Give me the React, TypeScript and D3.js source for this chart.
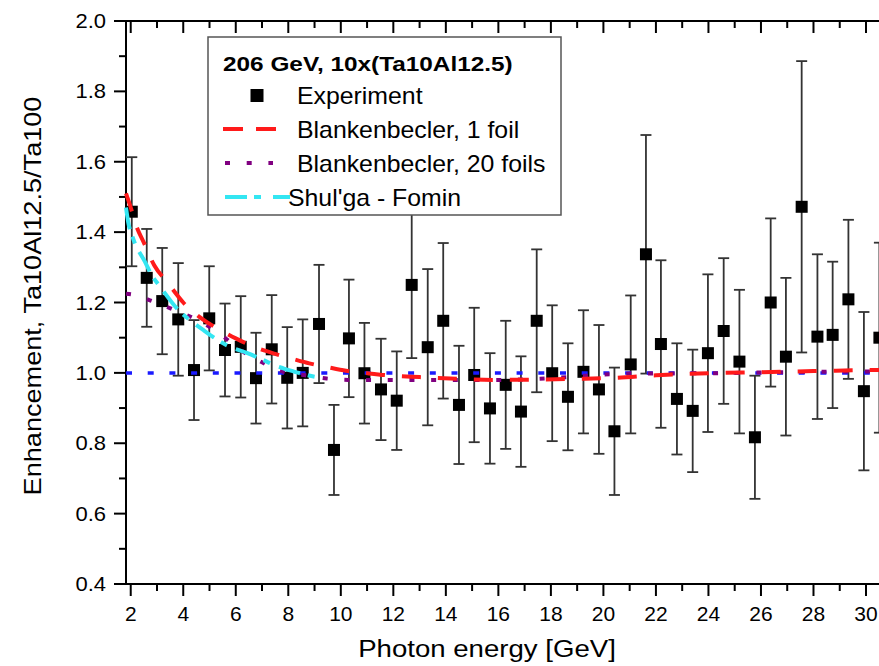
import * as d3 from 'd3';

// Experiment (206 GeV, 10x(Ta10Al12.5))
const expX = [2.04, 2.61, 3.2, 3.81, 4.41, 4.99, 5.59, 6.19, 6.77, 7.37, 7.96, 8.55, 9.17, 9.74, 10.31, 10.9, 11.53, 12.13, 12.7, 13.31, 13.9, 14.5, 15.08, 15.68, 16.28, 16.86, 17.46, 18.05, 18.65, 19.24, 19.83, 20.42, 21.04, 21.62, 22.19, 22.8, 23.4, 23.98, 24.58, 25.18, 25.77, 26.37, 26.95, 27.55, 28.15, 28.73, 29.33, 29.92, 30.51];
const expY = [1.458, 1.27, 1.204, 1.152, 1.008, 1.155, 1.065, 1.074, 0.985, 1.067, 0.986, 1.0, 1.139, 0.781, 1.098, 0.999, 0.953, 0.921, 1.25, 1.073, 1.148, 0.909, 0.994, 0.899, 0.966, 0.89, 1.148, 0.999, 0.932, 1.003, 0.953, 0.834, 1.024, 1.337, 1.082, 0.926, 0.892, 1.056, 1.119, 1.032, 0.817, 1.2, 1.046, 1.472, 1.103, 1.108, 1.209, 0.948, 1.1];
const expErr = [0.155, 0.139, 0.151, 0.16, 0.142, 0.148, 0.132, 0.144, 0.129, 0.154, 0.144, 0.152, 0.168, 0.128, 0.167, 0.143, 0.144, 0.14, 0.208, 0.222, 0.221, 0.168, 0.191, 0.157, 0.182, 0.157, 0.203, 0.193, 0.152, 0.175, 0.183, 0.181, 0.196, 0.339, 0.238, 0.158, 0.174, 0.224, 0.207, 0.204, 0.175, 0.239, 0.224, 0.414, 0.234, 0.208, 0.226, 0.225, 0.27];

// Blankenbecler, 1 foil
const blank1X = [1.82, 2.0, 2.2, 2.5, 2.9, 3.4, 4.0, 4.6, 5.4, 6.0, 6.7, 7.5, 8.2, 8.8, 9.5, 10.2, 10.9, 11.8, 13.0, 14.5, 16.0, 17.5, 19.0, 20.5, 22.0, 24.0, 26.0, 28.0, 30.0, 31.0];
const blank1Y = [1.51, 1.47, 1.42, 1.37, 1.305, 1.257, 1.2, 1.16, 1.122, 1.098, 1.074, 1.054, 1.039, 1.027, 1.016, 1.006, 1.0, 0.993, 0.988, 0.983, 0.98, 0.981, 0.983, 0.986, 0.993, 0.999, 1.002, 1.005, 1.008, 1.009];

// Blankenbecler, 20 foils
const blank20X = [1.82, 2.04, 2.82, 3.62, 4.49, 5.34, 6.14, 7.0, 7.81, 8.64, 9.46, 10.29, 12.0, 14.0, 16.0, 18.0, 19.0, 20.0, 21.0, 24.0, 28.0, 31.0];
const blank20Y = [1.225, 1.223, 1.204, 1.18, 1.152, 1.114, 1.067, 1.03, 1.003, 0.993, 0.984, 0.98, 0.98, 0.98, 0.98, 0.985, 0.99, 0.995, 0.998, 0.999, 1.003, 1.004];

// Shul'ga - Fomin
const shulgaX = [1.82, 1.9, 2.1, 2.54, 2.8, 3.12, 3.81, 4.26, 4.76, 5.78, 6.42, 7.18, 7.56, 7.81, 8.4, 9.02, 9.2];
const shulgaY = [1.47, 1.43, 1.38, 1.316, 1.278, 1.245, 1.179, 1.15, 1.122, 1.074, 1.057, 1.032, 1.019, 1.013, 1.0, 0.989, 0.987];

// reference level
const unityX = [1.82, 31.0];
const unityY = [1.0, 1.0];

const xMajor = [2, 4, 6, 8, 10, 12, 14, 16, 18, 20, 22, 24, 26, 28, 30];
const xMinor = [3, 5, 7, 9, 11, 13, 15, 17, 19, 21, 23, 25, 27, 29, 31];
const yMajor = [0.4, 0.6, 0.8, 1.0, 1.2, 1.4, 1.6, 1.8, 2.0];
const yMinor = [0.5, 0.7, 0.9, 1.1, 1.3, 1.5, 1.7, 1.9];

const legendTitle = '206 GeV, 10x(Ta10Al12.5)';
const legendNames = ['Experiment', 'Blankenbecler, 1 foil', 'Blankenbecler, 20 foils', "Shul'ga - Fomin"];

const FONT = '"Liberation Sans", Arial, sans-serif';

// text that is a bit wider than the font draws it (the original is stretched)
function Wide({ x, y, sx, size, rotate = 0, anchor = 'start', bold = false, children }: any) {
    return (
        <text
            transform={`translate(${x},${y}) rotate(${rotate}) scale(${sx},1)`}
            fontSize={size}
            fontWeight={bold ? 'bold' : 'normal'}
            textAnchor={anchor}
        >
            {children}
        </text>
    );
}

export default function App() {
    const width = 879;
    const height = 666;
    const left = 126;
    const top = 21;
    const bottom = 584;

    const x = d3.scaleLinear().domain([1.82, 31]).range([left, left + 29.18 * 26.26]);
    const y = d3.scaleLinear().domain([0.4, 2.0]).range([bottom, top]);

    const line = (xs: number[], ys: number[]) =>
        d3.line<number>()
            .x((_, i) => x(xs[i]))
            .y(d => y(d))
            .curve(d3.curveMonotoneX)(ys) || '';

    const sq = 12;
    const cap = 5.5;

    return (
        <svg width={width} height={height} style={{ position: 'absolute', left: 0, top: 0, background: '#fff' }} fontFamily={FONT}>
            {/* axes */}
            <line x1={left} x2={width} y1={bottom} y2={bottom} stroke="#000" strokeWidth={2} />
            <line x1={left} x2={width} y1={top} y2={top} stroke="#000" strokeWidth={2} />
            <line x1={left} x2={left} y1={top} y2={bottom} stroke="#000" strokeWidth={2} />

            {xMajor.map(t => (
                <g key={'xM' + t}>
                    <line x1={x(t)} x2={x(t)} y1={bottom} y2={bottom + 12} stroke="#000" strokeWidth={2} />
                    <line x1={x(t)} x2={x(t)} y1={top} y2={top + 12} stroke="#000" strokeWidth={2} />
                    <Wide x={x(t)} y={621} sx={1.05} size={20} anchor="middle">{t}</Wide>
                </g>
            ))}
            {xMinor.map(t => (
                <g key={'xm' + t}>
                    <line x1={x(t)} x2={x(t)} y1={bottom} y2={bottom + 7} stroke="#000" strokeWidth={2} />
                    <line x1={x(t)} x2={x(t)} y1={top} y2={top + 7} stroke="#000" strokeWidth={2} />
                </g>
            ))}
            {yMajor.map(t => (
                <g key={'yM' + t}>
                    <line x1={left - 12} x2={left} y1={y(t)} y2={y(t)} stroke="#000" strokeWidth={2} />
                    <Wide x={106} y={y(t) + 7} sx={1.1} size={20} anchor="end">{t.toFixed(1)}</Wide>
                </g>
            ))}
            {yMinor.map(t => (
                <line key={'ym' + t} x1={left - 7} x2={left} y1={y(t)} y2={y(t)} stroke="#000" strokeWidth={2} />
            ))}

            <Wide x={487} y={657} sx={1.15} size={24} anchor="middle">Photon energy [GeV]</Wide>
            <Wide x={41} y={296} sx={1.13} size={24} rotate={-90} anchor="middle">Enhancement, Ta10Al12.5/Ta100</Wide>

            {/* experiment */}
            {expX.map((v, i) => (
                <g key={'e' + i}>
                    <line x1={x(v)} x2={x(v)} y1={y(expY[i] - expErr[i])} y2={y(expY[i] + expErr[i])} stroke="#333" strokeWidth={1.8} />
                    <line x1={x(v) - cap} x2={x(v) + cap} y1={y(expY[i] - expErr[i])} y2={y(expY[i] - expErr[i])} stroke="#333" strokeWidth={1.8} />
                    <line x1={x(v) - cap} x2={x(v) + cap} y1={y(expY[i] + expErr[i])} y2={y(expY[i] + expErr[i])} stroke="#333" strokeWidth={1.8} />
                    <rect x={x(v) - sq / 2} y={y(expY[i]) - sq / 2} width={sq} height={sq} fill="#000" />
                </g>
            ))}

            {/* model curves */}
            <path d={line(unityX, unityY)} fill="none" stroke="#1a1aff" strokeWidth={3.5} strokeDasharray="6,15.7" />
            <path d={line(blank20X, blank20Y)} fill="none" stroke="#800080" strokeWidth={4} strokeDasharray="5,16.7" />
            <path d={line(blank1X, blank1Y)} fill="none" stroke="#ff1a1a" strokeWidth={4} strokeDasharray="19,17" />
            <path d={line(shulgaX, shulgaY)} fill="none" stroke="#33e6f2" strokeWidth={4} strokeDasharray="22,8,7,9.7" />

            {/* legend */}
            <rect x={208} y={37} width={353} height={178} fill="#fff" stroke="#555" strokeWidth={1.5} />
            <Wide x={223} y={71} sx={1.16} size={21} bold>{legendTitle}</Wide>
            <rect x={250.5} y={89} width={13} height={13} fill="#000" />
            <line x1={223} x2={278} y1={129} y2={129} stroke="#ff1a1a" strokeWidth={4} strokeDasharray="20,13" />
            <line x1={225} x2={273} y1={163} y2={163} stroke="#800080" strokeWidth={4} strokeDasharray="5,16.7" />
            <line x1={225} x2={290} y1={197} y2={197} stroke="#33e6f2" strokeWidth={4} strokeDasharray="22,7,7,12" />
            <Wide x={297} y={104} sx={1.08} size={23}>{legendNames[0]}</Wide>
            <Wide x={297} y={138} sx={1.08} size={23}>{legendNames[1]}</Wide>
            <Wide x={297} y={172} sx={1.08} size={23}>{legendNames[2]}</Wide>
            <Wide x={288} y={206} sx={1.08} size={23}>{legendNames[3]}</Wide>
        </svg>
    );
}
